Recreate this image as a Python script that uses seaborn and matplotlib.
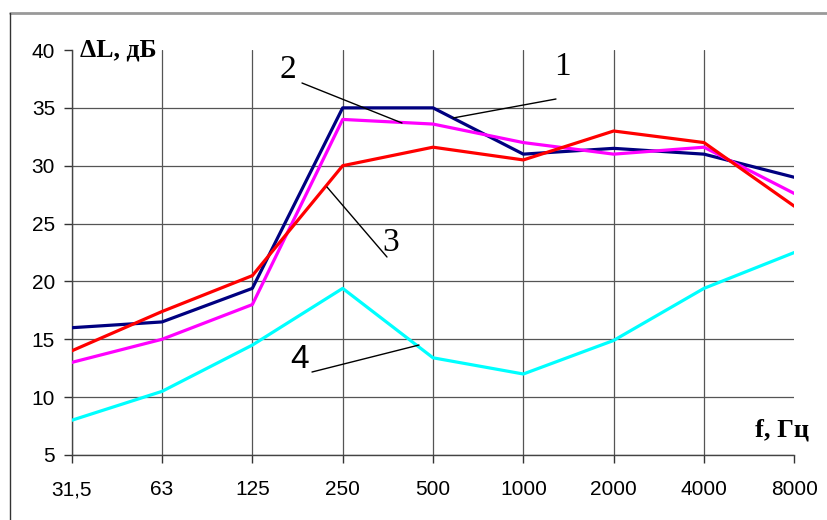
import matplotlib
matplotlib.use("Agg")
import matplotlib.pyplot as plt
import seaborn as sns
import pandas as pd
import numpy as np

freqs = ["31,5", "63", "125", "250", "500", "1000", "2000", "4000", "8000"]
curve1 = [16.0, 16.5, 19.4, 35.0, 35.0, 31.0, 31.5, 31.0, 29.0]
curve2 = [13.0, 15.0, 18.0, 34.0, 33.6, 32.0, 31.0, 31.6, 27.6]
curve3 = [14.0, 17.4, 20.5, 30.0, 31.6, 30.5, 33.0, 32.0, 26.5]
curve4 = [8.0, 10.5, 14.5, 19.4, 13.4, 12.0, 14.9, 19.4, 22.5]
series_names = ["1", "2", "3", "4"]
colors = ["#000080", "#FF00FF", "#FF0000", "#00FFFF"]
yticks = [5, 10, 15, 20, 25, 30, 35, 40]

sns.set_theme(style="white")
plt.rcParams['font.family'] = ['Liberation Sans', 'DejaVu Sans']

rows = []
for name, vals in zip(series_names, [curve1, curve2, curve3, curve4]):
    for i, v in enumerate(vals):
        rows.append({"idx": i, "value": v, "curve": name})
df = pd.DataFrame(rows)

fig = plt.figure(figsize=(8.27, 5.20), dpi=100)
ax = fig.add_axes([71.7/827, 1-455/520, (794.3-71.7)/827, (455-50)/520])

sns.lineplot(data=df, x="idx", y="value", hue="curve", palette=dict(zip(series_names, colors)),
             linewidth=2.3, ax=ax, legend=False, zorder=3)

ax.set_xlim(0, len(freqs)-1)
ax.set_ylim(5, 40)
ax.set_xticks(range(len(freqs)))
ax.set_xticklabels(freqs)
ax.set_yticks(yticks)
ax.set_xlabel("")
ax.set_ylabel("")
ax.tick_params(axis='both', direction='out', length=6, width=1, colors='#333333',
               labelsize=15, labelcolor='black', pad=6)
ax.tick_params(axis='x', pad=12)
ax.tick_params(left=True, bottom=True)
for s in ["top", "right"]:
    ax.spines[s].set_visible(False)
for s in ["left", "bottom"]:
    ax.spines[s].set_color("#444444")
    ax.spines[s].set_linewidth(1)

ax.grid(True, color="#555555", linewidth=0.9)
ax.set_axisbelow(True)
ax.yaxis.get_gridlines()[-1].set_visible(False)
ax.xaxis.get_gridlines()[-1].set_visible(False)

def px(xp, yp):
    return ((xp - 71.7) / 90.33, 40 - (yp - 50) / 11.571)

serif = ['Liberation Serif', 'DejaVu Serif']
notes = [
    ("2", (288, 70), (302, 83), (402, 123), serif),
    ("1", (562, 67), (556, 99), (453, 118), serif),
    ("3", (391, 243), (387, 257), (327, 187), serif),
    ("4", (300, 359), (312, 372), (419, 345), ['Liberation Sans']),
]
for label, tpos, a, b, fam in notes:
    ax.annotate("", xy=px(*b), xytext=px(*a),
                arrowprops=dict(arrowstyle='-', color='black', lw=1, shrinkA=0, shrinkB=0),
                annotation_clip=False, zorder=5)
    tx, ty = px(*tpos)
    ax.text(tx, ty, label, ha='center', va='center', fontsize=24, family=fam, color='black',
            clip_on=False, zorder=6)

fig.text(80/827, 1-50/520, "ΔL, дБ", ha='left', va='center', fontsize=18.5, fontweight='bold',
         family=serif, color='black')
fig.text(809/827, 1-430/520, "f, Гц", ha='right', va='center', fontsize=19, fontweight='bold',
         family=serif, color='black')

# figure frame lines
fig.add_artist(plt.Line2D([10/827, 1.0], [1-13/520, 1-13/520], color='#999999', lw=2,
                          transform=fig.transFigure))
fig.add_artist(plt.Line2D([10/827, 10/827], [0, 1-13/520], color='#333333', lw=1,
                          transform=fig.transFigure))

fig.savefig("out.png", dpi=100)
